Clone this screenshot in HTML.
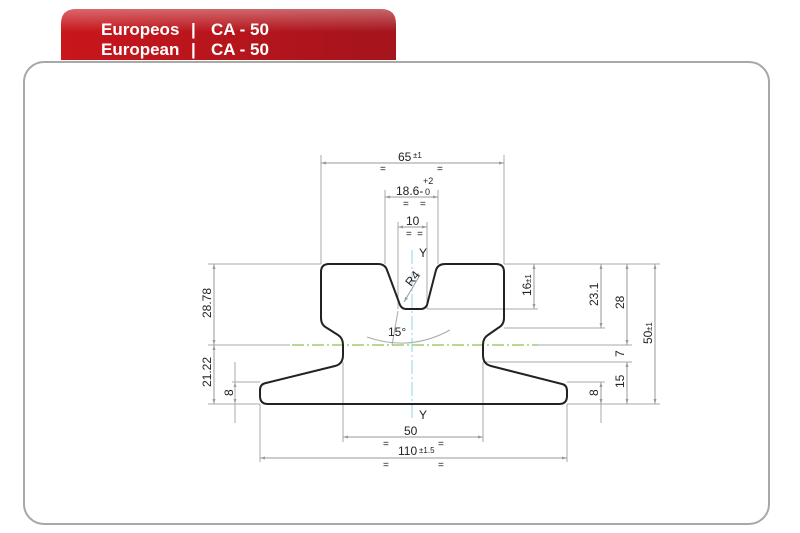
<!DOCTYPE html>
<html><head><meta charset="utf-8"><style>
html,body{margin:0;padding:0;background:#fff;width:800px;height:533px;overflow:hidden}
svg{display:block}
</style></head><body>
<svg width="800" height="533" viewBox="0 0 800 533" xmlns="http://www.w3.org/2000/svg" font-family="Liberation Sans, sans-serif">
<defs>
<linearGradient id="rg" x1="0" y1="0" x2="1" y2="0">
<stop offset="0" stop-color="#c8161c"/><stop offset="1" stop-color="#a5141c"/></linearGradient>
<linearGradient id="sh" x1="0" y1="0" x2="0" y2="1">
<stop offset="0" stop-color="#fff" stop-opacity="0.35"/><stop offset="0.45" stop-color="#fff" stop-opacity="0"/></linearGradient>
<marker id="a" viewBox="0 0 10 10" refX="10" refY="5" markerWidth="8" markerHeight="5" orient="auto-start-reverse"><path d="M0,2 L10,5 L0,8 z" fill="#999"/></marker>
</defs>
<path d="M61,60 L61,24 Q61,9 76,9 L381,9 Q396,9 396,24 L396,60 z" fill="url(#rg)"/>
<path d="M61,60 L61,24 Q61,9 76,9 L381,9 Q396,9 396,24 L396,60 z" fill="url(#sh)"/>
<g fill="#fff" font-size="17" font-weight="bold">
<text x="101" y="35">Europeos</text><text x="191" y="35">|</text><text x="211" y="35">CA - 50</text>
<text x="101" y="55">European</text><text x="191" y="55">|</text><text x="211" y="55">CA - 50</text>
</g>
<rect x="24" y="62" width="745" height="462" rx="20" fill="#fff" stroke="#a8a8a8" stroke-width="2"/>

<g stroke="#aaa" stroke-width="1" fill="none">
<line x1="321" y1="155" x2="321" y2="264"/><line x1="504" y1="155" x2="504" y2="264"/>
<line x1="385" y1="190" x2="385" y2="264"/><line x1="438" y1="190" x2="438" y2="264"/>
<line x1="398" y1="222" x2="398" y2="309"/><line x1="427" y1="222" x2="427" y2="309"/>
<line x1="208" y1="264" x2="321" y2="264"/>
<line x1="208" y1="345" x2="290" y2="345"/>
<line x1="208" y1="404" x2="260" y2="404"/>
<line x1="232" y1="382" x2="260" y2="382"/>
<line x1="504" y1="264" x2="660" y2="264"/>
<line x1="427" y1="309" x2="538" y2="309"/>
<line x1="504" y1="328" x2="605" y2="328"/>
<line x1="538" y1="345" x2="632" y2="345"/>
<line x1="483" y1="362" x2="632" y2="362"/>
<line x1="567" y1="382" x2="605" y2="382"/>
<line x1="567" y1="404" x2="660" y2="404"/>
<line x1="343" y1="362" x2="343" y2="442"/><line x1="483" y1="362" x2="483" y2="442"/>
<line x1="260" y1="404" x2="260" y2="462"/><line x1="567" y1="404" x2="567" y2="462"/>
<path d="M367,337 Q410,352 450,330"/>
<line x1="398" y1="311" x2="392" y2="345"/>
</g>
<g stroke="#999" stroke-width="1" fill="none" marker-start="url(#a)" marker-end="url(#a)">
<line x1="321" y1="163" x2="504" y2="163"/>
<line x1="385" y1="197" x2="438" y2="197"/>
<line x1="398" y1="227" x2="427" y2="227"/>
<line x1="214" y1="264" x2="214" y2="345"/>
<line x1="214" y1="345" x2="214" y2="404"/>
<line x1="235" y1="382" x2="235" y2="404"/>
<line x1="534" y1="264" x2="534" y2="309"/>
<line x1="601" y1="264" x2="601" y2="328"/>
<line x1="627" y1="264" x2="627" y2="345"/>
<line x1="655" y1="264" x2="655" y2="404"/>
<line x1="627" y1="362" x2="627" y2="404"/>
<line x1="601" y1="382" x2="601" y2="404"/>
<line x1="343" y1="437" x2="483" y2="437"/>
<line x1="260" y1="458" x2="567" y2="458"/>
</g>
<line x1="235" y1="362" x2="235" y2="423" stroke="#aaa"/>
<line x1="601" y1="404" x2="601" y2="423" stroke="#aaa"/>
<line x1="420" y1="275" x2="404" y2="302" stroke="#999" marker-end="url(#a)"/>
<line x1="292" y1="345" x2="538" y2="345" stroke="#6ab52c" stroke-width="1" stroke-dasharray="12,3,2,3"/>
<line x1="412" y1="250" x2="412" y2="420" stroke="#8fd0ee" stroke-width="1" stroke-dasharray="14,3,2,3"/>

<path d="M329,264 L378,264 Q385,264 387,270 L400,305 Q402,309 406,309 L421,309 Q425,309 427,305 L436,270 Q438,264 445,264 L496,264 Q504,264 504,272 L504,318 Q504,325 498,328 L488,335 Q483,338 483,345 L483,355 Q483,364 491,366 L562,384 Q567,385 567,391 L567,396 Q567,404 559,404 L268,404 Q260,404 260,396 L260,390 Q260,384 266,383 L335,366 Q343,364 343,355 L343,345 Q343,338 338,335 L327,328 Q321,325 321,318 L321,272 Q321,264 329,264 z" fill="none" stroke="#222" stroke-width="2"/>

<g fill="#222" font-size="12">
<text x="398" y="161">65</text><text x="413" y="158" font-size="8">±1</text>
<text x="380" y="172" font-size="10">=</text><text x="437" y="172" font-size="10">=</text>
<text x="396" y="195">18.6-</text><text x="423" y="184" font-size="9">+2</text><text x="425" y="195" font-size="9">0</text>
<text x="403" y="207" font-size="10">=</text><text x="420" y="207" font-size="10">=</text>
<text x="406" y="225">10</text>
<text x="406" y="237" font-size="10">=</text><text x="417" y="237" font-size="10">=</text>
<text x="419" y="257">Y</text>
<text x="419" y="419">Y</text>
<text x="404" y="435">50</text>
<text x="383" y="447" font-size="10">=</text><text x="438" y="447" font-size="10">=</text>
<text x="398" y="455">110</text><text x="419" y="453" font-size="8">±1.5</text>
<text x="383" y="468" font-size="10">=</text><text x="438" y="468" font-size="10">=</text>
<text x="388" y="336">15°</text>
<text transform="translate(411,287) rotate(-52)">R4</text>
<text transform="translate(211,318) rotate(-90)">28.78</text>
<text transform="translate(211,387) rotate(-90)">21.22</text>
<text transform="translate(233,396) rotate(-90)">8</text>
<text transform="translate(531,296) rotate(-90)">16</text><text transform="translate(531,283) rotate(-90)" font-size="8">±1</text>
<text transform="translate(598,306) rotate(-90)">23.1</text>
<text transform="translate(624,309) rotate(-90)">28</text>
<text transform="translate(652,344) rotate(-90)">50</text><text transform="translate(652,331) rotate(-90)" font-size="8">±1</text>
<text transform="translate(624,357) rotate(-90)">7</text>
<text transform="translate(624,388) rotate(-90)">15</text>
<text transform="translate(598,396) rotate(-90)">8</text>
</g>
</svg>
</body></html>
